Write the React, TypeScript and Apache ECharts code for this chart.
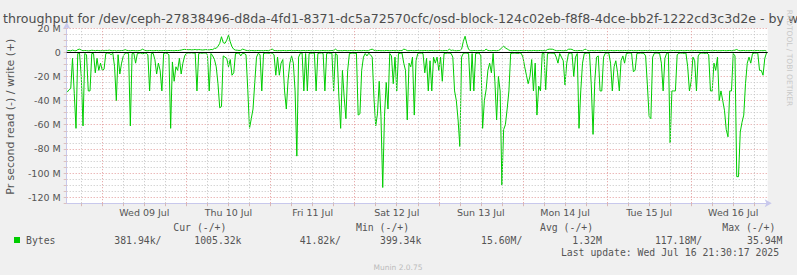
import React, { useEffect, useRef } from "react";
import * as echarts from "echarts";

// Time axis: hours relative to Wed 09 Jul 00:00; samples every 30 minutes from Tue 08 14:00
const sampleStartHour = -10;
const sampleStepHours = 0.5;

const dayLabels = ["Wed 09 Jul", "Thu 10 Jul", "Fri 11 Jul", "Sat 12 Jul", "Sun 13 Jul", "Mon 14 Jul", "Tue 15 Jul", "Wed 16 Jul"];

// Read throughput (MB/s), plotted negative
const readValues: number[] = [
  -33, -31, -30, -5, -34, -63, -1, -0.5, -20, -61, -1, -2, -32, -32, -1, -1, -17, -5, -15, -9,
  -15, -14, -1, -0.6, -0.8, -2, -0.7, -12, -40, -2, -18, -9, -3, -0.8, -0.6, -1, -61, -1, -0.8, -9,
  -1, -0.7, -0.6, -1.2, -0.8, -0.6, -2, -32, -1, -0.8, -6, -18, -9, -15, -32, -1, -0.7, -0.9, -2, -63,
  -8, -24, -12, -15, -5, -18, -9, -3, -0.8, -0.5, -0.6, -0.4, -0.7, -0.6, -32, -1, -0.6, -0.8, -0.5, -0.7,
  -2, -32, -1, -3, -6, -12, -26, -46, -45, -3, -4, -5, -12, -6, -19, -17, -1, -0.8, -0.6, -3,
  -0.8, -1, -2, -31, -63, -55, -47, -25, -4, -0.8, -2, -32, -1, -0.7, -0.6, -0.9, -0.5, -0.8, -2, -19,
  -4, -19, -9, -6, -32, -47, -23, -9, -3, -9, -32, -86, -4, -0.8, -0.6, -32, -1, -32, -1, -0.7,
  -0.8, -0.6, -32, -1, -0.7, -0.5, -0.9, -32, -1, -0.6, -0.8, -0.7, -32, -1, -2, -37, -63, -15, -37, -55,
  -15, -1, -0.8, -0.6, -1, -0.7, -52, -51, -15, -4, -1, -3, -0.8, -2, -4, -38, -61, -51, -24, -53,
  -112, -53, -25, -47, -1, -3, -26, -4, -32, -1, -0.8, -0.6, -9, -15, -56, -9, -12, -4, -52, -7,
  -1, -0.7, -0.6, -1, -17, -5, -32, -7, -32, -4, -9, -4, -15, -4, -24, -1, -0.8, -0.6, -0.7, -0.9,
  -4, -32, -40, -56, -78, -4, -0.8, -0.6, -0.7, -1, -32, -1, -32, -1, -0.8, -0.6, -3, -63, -40, -31,
  -15, -9, -17, -1, -24, -56, -20, -32, -110, -64, -60, -47, -32, -1, -0.8, -0.6, -0.7, -1, -0.6, -0.8,
  -4, -12, -19, -26, -20, -6, -32, -9, -52, -28, -32, -1, -0.8, -31, -1, -0.7, -0.6, -0.8, -0.7, -4,
  -9, -1, -4, -7, -27, -9, -1, -0.7, -0.8, -20, -4, -1, -63, -32, -9, -1, -0.8, -0.6, -0.9, -27,
  -68, -24, -4, -3, -32, -32, -4, -0.8, -0.6, -0.7, -9, -32, -12, -7, -17, -32, -7, -3, -9, -1,
  -0.8, -0.6, -0.7, -16, -15, -1, -0.8, -0.6, -0.7, -0.9, -3, -27, -53, -55, -4, -0.8, -0.6, -0.7, -1, -9,
  -32, -5, -0.8, -0.7, -75, -32, -32, -32, -2, -0.8, -0.6, -0.7, -0.9, -0.6, -12, -32, -24, -4, -7, -32,
  -3, -0.8, -0.6, -0.7, -0.9, -0.6, -2, -32, -32, -9, -15, -4, -40, -32, -40, -48, -64, -70, -32, -32,
  -1, -3, -103, -103, -66, -58, -52, -26, -9, -4, -9, -1, -0.8, -0.6, -0.7, -15, -15, -19, -5, -0.4,
];

// Write throughput (MB/s), plotted positive
const writeValues: number[] = [
  1.3, 1.5, 1.2, 1.8, 1.4, 1.2, 2.2, 2.6, 1.8, 1.3, 1.5, 1.4, 1.2, 1.3, 1.7, 1.5, 1.3, 1.6, 1.4, 1.3,
  1.4, 1.3, 1.6, 1.5, 1.8, 1.4, 1.3, 1.5, 1.2, 1.4, 1.3, 1.5, 1.4, 2.2, 1.6, 1.4, 1.3, 1.5, 1.4, 1.3,
  1.3, 1.4, 1.7, 2.6, 1.7, 1.4, 1.3, 1.5, 1.4, 1.3, 1.4, 1.5, 1.3, 1.4, 1.3, 1.5, 1.4, 1.3, 1.5, 1.4,
  1.4, 1.3, 1.5, 1.4, 1.6, 1.8, 2.2, 2.4, 2.3, 2.1, 2.2, 2, 2.1, 2.3, 2, 2.2, 2.1, 1.9, 2, 2.2,
  2.1, 2, 2.3, 2.2, 3.3, 3.3, 5, 7.4, 12.9, 8, 7.4, 10, 14.3, 8.7, 4.6, 2.5, 1.8, 1.7, 1.5, 1.6,
  2.6, 2.2, 1.6, 1.4, 1.3, 1.5, 1.4, 1.3, 1.4, 1.5, 1.3, 1.4, 1.3, 1.5, 1.4, 1.3, 2.2, 2.6, 1.5, 1.4,
  1.3, 1.4, 1.3, 1.5, 1.4, 1.3, 1.4, 1.5, 1.3, 1.4, 1.3, 1.5, 1.4, 1.3, 1.4, 1.5, 1.3, 1.4, 1.5, 1.3,
  1.4, 1.3, 1.5, 1.4, 1.3, 1.4, 1.5, 1.3, 1.4, 1.3, 1.4, 1.5, 1.3, 2.6, 1.5, 1.3, 1.4, 1.3, 1.5, 1.4,
  1.3, 1.4, 1.5, 1.3, 1.4, 1.5, 1.3, 1.4, 1.3, 1.5, 1.4, 1.3, 1.4, 2.2, 2.6, 1.7, 1.3, 1.4, 1.5, 1.3,
  1.4, 1.3, 1.5, 1.4, 1.3, 1.4, 1.5, 1.3, 1.4, 1.3, 1.5, 1.4, 2.6, 2.2, 1.4, 1.3, 1.5, 1.4, 1.3, 1.4,
  1.5, 1.3, 1.4, 1.3, 1.5, 1.4, 1.3, 1.4, 1.5, 1.3, 1.4, 1.3, 1.5, 1.4, 1.3, 1.4, 1.5, 1.3, 2.6, 1.5,
  1.8, 1.4, 1.3, 1.4, 1.5, 2.6, 9, 13.3, 7, 2.4, 1.4, 1.3, 1.5, 1.4, 1.3, 1.4, 1.5, 1.3, 1.4, 2.6,
  1.5, 1.4, 1.3, 1.5, 1.4, 1.3, 1.5, 2.2, 4, 5.2, 3.5, 2.8, 1.8, 1.4, 1.3, 1.5, 1.4, 1.3, 1.4, 1.5,
  1.3, 1.4, 1.5, 1.3, 1.4, 1.3, 1.5, 1.4, 1.3, 1.4, 1.5, 1.3, 1.4, 1.3, 2.2, 2.6, 2.6, 2.5, 1.8, 1.4,
  1.3, 1.5, 1.4, 1.3, 1.4, 1.5, 2.5, 2.6, 2.4, 1.5, 1.4, 1.3, 1.5, 1.4, 1.3, 2.2, 2.6, 1.4, 1.3, 1.5,
  1.4, 1.3, 1.5, 1.4, 1.3, 1.4, 1.5, 1.3, 1.4, 1.3, 1.5, 1.4, 1.3, 1.4, 1.5, 1.3, 1.4, 1.3, 1.5, 1.4,
  1.3, 1.4, 1.5, 1.3, 1.4, 1.3, 1.5, 1.4, 1.3, 1.4, 1.5, 1.3, 1.4, 1.3, 1.5, 1.4, 1.3, 1.4, 1.5, 1.3,
  1.4, 1.3, 1.5, 1.4, 1.3, 1.4, 1.5, 1.3, 1.4, 1.3, 1.5, 1.4, 1.3, 1.4, 1.5, 1.3, 1.4, 1.3, 1.5, 1.4,
  1.3, 1.4, 1.5, 1.3, 1.4, 1.3, 1.5, 1.4, 1.3, 1.4, 1.5, 1.3, 1.4, 1.3, 1.5, 1.4, 1.3, 1.4, 1.5, 1.3,
  1.4, 1.8, 2.3, 1.5, 1.3, 1.4, 1.5, 1.3, 1.4, 1.3, 1.5, 1.4, 1.3, 1.4, 1.5, 1.3, 1.4, 1.3, 1.5, 1.0,
];

const legendHeaders = ["Cur (-/+)", "Min (-/+)", "Avg (-/+)", "Max (-/+)"];
const legendValues = ["381.94k/", "1005.32k", "41.82k/", "399.34k", "15.60M/", "1.32M", "117.18M/", "35.94M"];
const seriesName = "Bytes";
const titleText = "throughput for /dev/ceph-27838496-d8da-4fd1-8371-dc5a72570cfc/osd-block-124c02eb-f8f8-4dce-bb2f-1222cd3c3d2e - by week";
const yAxisTitle = "Pr second read (-) / write (+)";
const lastUpdate = "Last update: Wed Jul 16 21:30:17 2025";
const footer = "Munin 2.0.75";
const watermark = "RRDTOOL / TOBI OETIKER";

const X_MIN = -10.156;
const X_MAX = 189.83;
const GREEN = "#00cc00";
const MAJOR = "#e39a9a";
const MINOR = "#c4c4c4";
const AXIS = "#c8c8ec";
const TEXT = "#555555";
const MONO = "'DejaVu Sans Mono', monospace";
const SANS = "'DejaVu Sans', sans-serif";

export default function App() {
  const ref = useRef<HTMLDivElement>(null);
  useEffect(() => {
    if (!ref.current) return;
    const chart = echarts.init(ref.current, undefined, { renderer: "svg" });

    const readData = readValues.map((v, i) => [sampleStartHour + i * sampleStepHours, v]);
    const writeData = writeValues.map((v, i) => [sampleStartHour + i * sampleStepHours, v]);

    // vertical grid every 6 hours, major at midnight
    const vGridTimes: number[] = [];
    for (let t = -6; t <= 186; t += 6) vGridTimes.push(t);
    const labelHours = dayLabels.map((_, k) => 12 + 24 * k);

    const legendHeaderX = [173.3, 356, 540, 722.3];
    const legendValueX = [114.3, 194.3, 299.7, 380, 481, 572.3, 654.9, 747];

    const graphics: any[] = [
      { type: "text", left: 3, top: 11.5, style: { text: titleText, font: `12.6px ${SANS}`, fill: "#4d4d4d" }, silent: true },
      { type: "text", x: 10.7, y: 116.7, rotation: Math.PI / 2, style: { text: yAxisTitle, font: `10.9px ${SANS}`, fill: TEXT, align: "center", verticalAlign: "middle" }, silent: true },
      { type: "text", x: 789, y: 58, rotation: -Math.PI / 2, style: { text: watermark, font: `7.5px ${SANS}`, fill: "#c8c8c8", align: "center", verticalAlign: "middle" }, silent: true },
      { type: "rect", shape: { x: 14, y: 237, width: 6, height: 6 }, style: { fill: GREEN }, silent: true },
      { type: "text", x: 26, y: 240, style: { text: seriesName, font: `9.8px ${MONO}`, fill: TEXT, verticalAlign: "middle" }, silent: true },
      { type: "text", x: 560.9, y: 252.5, style: { text: lastUpdate, font: `9.8px ${MONO}`, fill: TEXT, verticalAlign: "middle" }, silent: true },
      { type: "text", x: 398, y: 267, style: { text: footer, font: `7.5px ${SANS}`, fill: "#bbbbbb", align: "center", verticalAlign: "middle" }, silent: true },
    ];
    legendHeaders.forEach((h, k) => graphics.push({ type: "text", x: legendHeaderX[k], y: 227.7, style: { text: h, font: `9.8px ${MONO}`, fill: TEXT, verticalAlign: "middle" }, silent: true }));
    legendValues.forEach((h, k) => graphics.push({ type: "text", x: legendValueX[k], y: 240, style: { text: h, font: `9.8px ${MONO}`, fill: TEXT, verticalAlign: "middle" }, silent: true }));

    chart.setOption({
      animation: false,
      backgroundColor: "#f0f0f0",
      grid: { left: 66.7, right: 29.3, top: 28.15, bottom: 71.8, show: true, backgroundColor: "#ffffff", borderWidth: 0 },
      xAxis: {
        type: "value",
        min: X_MIN,
        max: X_MAX,
        axisLine: { show: true, onZero: false, lineStyle: { color: AXIS, width: 1 }, symbol: ["none", "arrow"], symbolSize: [6, 7], symbolOffset: [0, 4] },
        axisTick: { show: true, customValues: vGridTimes, length: 3, lineStyle: { color: "#d8b8b8", width: 1 } },
        splitLine: { show: false },
        axisLabel: {
          customValues: labelHours,
          formatter: (v: number) => dayLabels[Math.round((v - 12) / 24)] ?? "",
          color: TEXT,
          fontFamily: SANS,
          fontSize: 9.5,
          margin: 4,
        },
      },
      yAxis: {
        type: "value",
        min: -125,
        max: 20,
        interval: 5,
        axisLine: { show: true, onZero: false, lineStyle: { color: AXIS, width: 1 }, symbol: ["none", "arrow"], symbolSize: [6, 7], symbolOffset: [0, 6] },
        axisTick: { show: true, length: 3, lineStyle: { color: "#dcc0c0" } },
        splitLine: { show: true, lineStyle: { color: [MINOR, MAJOR, MINOR, MINOR], width: 1, type: [1, 2] } },
        axisLabel: {
          formatter: (v: number) => (v % 20 === 0 ? (v === 0 ? "0" : `${v} M`) : ""),
          color: TEXT,
          fontFamily: SANS,
          fontSize: 9.5,
          margin: 6,
        },
      },
      graphic: graphics,
      series: [
        {
          type: "line",
          name: "gridHelper",
          data: readData,
          showSymbol: false,
          symbol: "none",
          silent: true,
          lineStyle: { opacity: 0, width: 0 },
          z: 1,
          markLine: {
            silent: true,
            symbol: "none",
            label: { show: false },
            data: vGridTimes.map((t) => ({
              xAxis: t,
              lineStyle: { color: t % 24 === 0 ? MAJOR : MINOR, width: 1, type: [1, 2] },
            })),
          },
        },
        {
          type: "line",
          name: "read",
          data: readData,
          showSymbol: false,
          symbol: "none",
          lineStyle: { color: GREEN, width: 1 },
          z: 3,
        },
        {
          type: "line",
          name: "write",
          data: writeData,
          showSymbol: false,
          symbol: "none",
          lineStyle: { color: GREEN, width: 1 },
          z: 4,
          markLine: {
            silent: true,
            symbol: "none",
            label: { show: false },
            lineStyle: { color: "#000000", width: 1.2, type: "solid" },
            data: [{ yAxis: 0 }],
          },
        },
      ],
    });
    return () => chart.dispose();
  }, []);
  return <div ref={ref} style={{ position: "fixed", left: 0, top: 0, width: 797, height: 275 }} />;
}
